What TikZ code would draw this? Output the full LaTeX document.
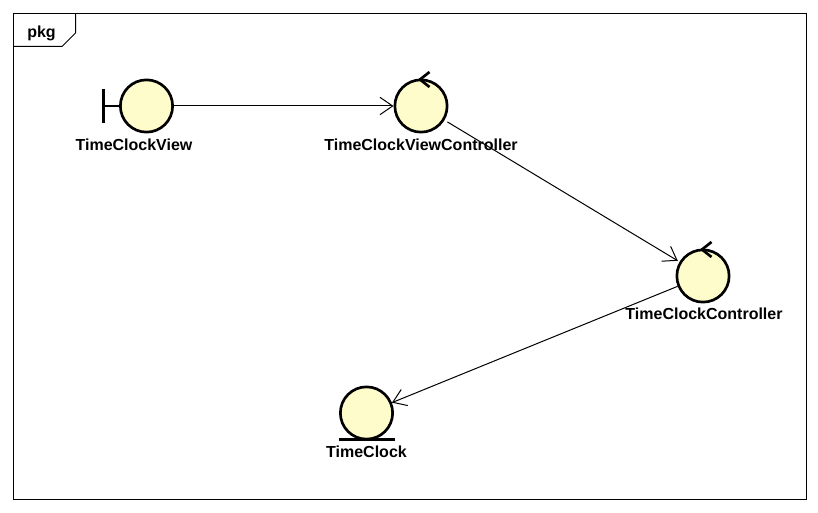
\documentclass[tikz,border=0pt]{standalone}
\usepackage{fontspec}
\setmainfont{Liberation Sans}
\usetikzlibrary{arrows.meta}
\tikzset{
    robust/.style={circle, draw=black, fill=yellow!20!white, line width=2pt, minimum size=39.2pt, inner sep=0pt},
    iconline/.style={line width=2pt},
    namelabel/.style={anchor=base, inner sep=0pt, font=\fontsize{12pt}{14pt}\selectfont\bfseries},
    flow/.style={line width=0.75pt, -{Straight Barb[length=9.5pt,width=13pt,line width=0.75pt]}}
}
\begin{document}
\begin{tikzpicture}[x=0.75pt, y=-0.75pt]
        \useasboundingbox (0,0) rectangle (818,513);
        \fill[white] (0,0) rectangle (818,513);
        \draw[line width=0.75pt] (13.5,13.5) rectangle (806.5,499.5);
        \draw[line width=0.75pt] (75.5,13.5) -- (75.5,33) -- (62,46.5) -- (13.5,46.5);
        \node[namelabel] (pkgname) at (41.5,37.6) {pkg};
        \node[robust] (view) at (146.5,106) {};
        \node[robust] (viewcontroller) at (421,106) {};
        \node[robust] (controller) at (703,276) {};
        \node[robust] (clock) at (366.5,413) {};
        \draw[iconline] (103.5,89) -- (103.5,123);
        \draw[iconline] (103.5,106) -- (view.west);
        \draw[iconline] (429.5,72) -- (420,79.5) -- (429.5,87);
        \draw[iconline] (711.5,242) -- (702,249.5) -- (711.5,257);
        \draw[iconline] (339,439.5) -- (395,439.5);
        \node[namelabel] (viewname) at (134,150.2) {TimeClockView};
        \node[namelabel] (viewcontrollername) at (421,150.2) {TimeClockViewController};
        \node[namelabel] (controllername) at (704,320) {TimeClockController};
        \node[namelabel] (clockname) at (366.5,457.2) {TimeClock};
        \draw[flow] (view) -- (viewcontroller);
        \draw[flow, shorten <=2.5pt, shorten >=1.5pt] (viewcontroller) -- (controller);
        \draw[flow] (controller) -- (clock);
    \end{tikzpicture}
\end{document}
